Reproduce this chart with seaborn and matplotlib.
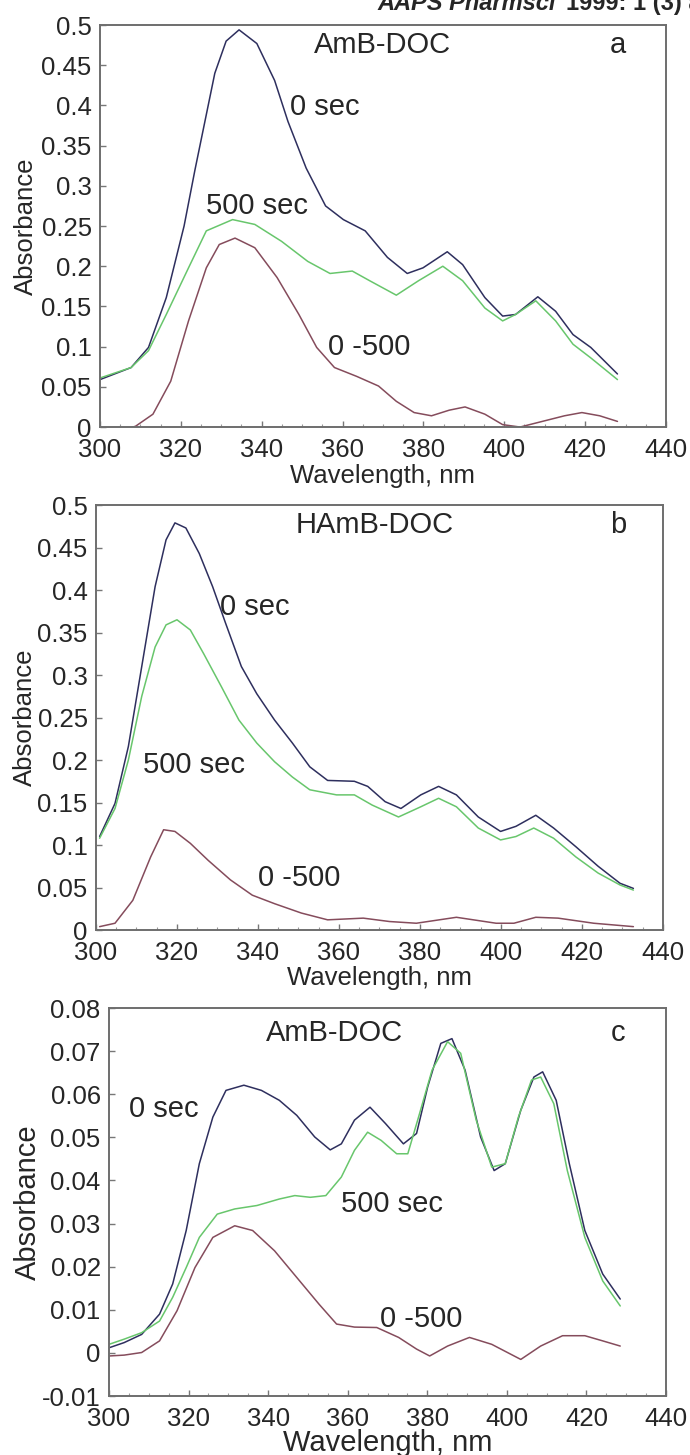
import numpy as np
import matplotlib
matplotlib.use("Agg")
import matplotlib.pyplot as plt
from matplotlib.ticker import MultipleLocator, FuncFormatter
import seaborn as sns

# --- panel a: AmB-DOC ---
a_wl_0 = [300, 307.7, 312, 316.4, 320.8, 323.5, 328.4, 331.2, 334.4, 338.8, 343.2, 346.5, 351.0,
          355.8, 360.2, 365.6, 371.1, 376.0, 379.9, 385.9, 389.7, 395.2, 399.6, 402.8, 408.3,
          412.7, 417.0, 421.4, 428.0]
a_abs_0 = [0.059, 0.074, 0.099, 0.161, 0.25, 0.32, 0.44, 0.48, 0.494, 0.477, 0.431, 0.38, 0.322,
           0.275, 0.258, 0.244, 0.211, 0.191, 0.198, 0.218, 0.202, 0.161, 0.138, 0.14, 0.162,
           0.144, 0.115, 0.099, 0.066]
a_wl_500 = [300, 307.7, 312, 316.4, 321.9, 326.3, 332.8, 338.3, 344.9, 351.4, 356.9, 362.4, 366.7,
            373.3, 378.8, 384.8, 389.7, 395.2, 399.6, 402.8, 407.8, 412.7, 417.0, 421.4, 428.0]
a_abs_500 = [0.061, 0.074, 0.095, 0.14, 0.198, 0.244, 0.258, 0.252, 0.231, 0.206, 0.191, 0.194,
             0.182, 0.164, 0.182, 0.2, 0.182, 0.148, 0.132, 0.14, 0.157, 0.132, 0.103, 0.086, 0.059]
a_wl_diff = [300, 305.5, 308.8, 313.1, 317.5, 321.9, 326.3, 329.5, 333.4, 338.3, 343.8, 349.2,
             353.6, 358.0, 363.5, 368.9, 373.3, 377.7, 382.0, 386.4, 390.3, 395.2, 399.6, 403.9,
             409.4, 414.9, 419.2, 423.6, 428.0]
a_abs_diff = [-0.005, -0.004, 0.001, 0.016, 0.057, 0.132, 0.198, 0.227, 0.235, 0.223, 0.186, 0.14,
              0.099, 0.074, 0.063, 0.051, 0.032, 0.018, 0.014, 0.021, 0.025, 0.016, 0.003, 0.0,
              0.007, 0.014, 0.018, 0.014, 0.007]

# --- panel b: HAmB-DOC ---
b_wl_0 = [300.9, 304.7, 308.0, 311.3, 314.6, 317.3, 319.5, 322.2, 325.5, 328.8, 332.0, 335.9,
          339.7, 344.1, 348.5, 352.8, 357.2, 363.8, 367.1, 371.4, 375.3, 380.2, 384.6, 389.0,
          394.4, 399.9, 403.7, 408.6, 413.0, 418.5, 424.0, 429.4, 432.7]
b_abs_0 = [0.110, 0.149, 0.216, 0.31, 0.404, 0.459, 0.479, 0.473, 0.443, 0.404, 0.361, 0.31,
           0.278, 0.247, 0.22, 0.192, 0.176, 0.175, 0.169, 0.151, 0.143, 0.159, 0.169, 0.159,
           0.133, 0.116, 0.122, 0.135, 0.12, 0.098, 0.075, 0.055, 0.049]
b_wl_500 = [300.9, 304.7, 308.0, 311.3, 314.6, 317.3, 320.0, 323.3, 326.6, 331.0, 335.3, 339.7,
            344.1, 348.5, 352.8, 359.4, 363.8, 368.2, 374.7, 380.2, 384.6, 389.0, 394.4, 399.9,
            403.7, 408.1, 413.0, 418.5, 424.0, 429.4, 432.7]
b_abs_500 = [0.108, 0.143, 0.2, 0.275, 0.333, 0.359, 0.365, 0.353, 0.325, 0.286, 0.247, 0.22,
             0.198, 0.18, 0.165, 0.159, 0.159, 0.147, 0.133, 0.145, 0.155, 0.145, 0.12, 0.106,
             0.11, 0.12, 0.108, 0.086, 0.067, 0.053, 0.047]
b_wl_diff = [300.9, 304.7, 309.1, 313.5, 316.7, 319.5, 323.3, 327.7, 333.2, 338.6, 344.1, 350.7,
             357.2, 366.0, 372.5, 379.1, 389.0, 398.8, 403.2, 408.6, 414.1, 422.9, 432.7]
b_abs_diff = [0.004, 0.008, 0.035, 0.086, 0.118, 0.116, 0.102, 0.082, 0.059, 0.041, 0.031, 0.02,
              0.012, 0.014, 0.01, 0.008, 0.015, 0.008, 0.008, 0.015, 0.014, 0.008, 0.004]

# --- panel c: AmB-DOC ---
c_wl_0 = [300.0, 303.8, 308.2, 312.7, 316.0, 319.4, 322.7, 326.1, 329.4, 333.9, 338.3, 342.8,
          347.2, 351.7, 355.6, 358.4, 361.7, 365.6, 369.5, 374.0, 377.3, 380.1, 383.4, 386.2,
          389.5, 393.4, 396.8, 399.6, 403.5, 406.8, 409.0, 412.4, 415.7, 419.6, 424.1, 428.5]
c_abs_0 = [0.0012, 0.0024, 0.0043, 0.009, 0.016, 0.0284, 0.0439, 0.0547, 0.0609, 0.0621, 0.0609,
           0.0586, 0.0551, 0.0501, 0.0471, 0.0485, 0.054, 0.057, 0.0532, 0.0485, 0.0509, 0.0617,
           0.0718, 0.0729, 0.0656, 0.0501, 0.0423, 0.0439, 0.0563, 0.064, 0.0652, 0.0586,
           0.0439, 0.0284, 0.0183, 0.0125]
c_wl_500 = [300.0, 303.8, 308.2, 312.7, 316.0, 319.4, 322.7, 327.2, 331.6, 337.2, 342.8, 346.7,
            350.6, 354.5, 358.4, 361.7, 365.0, 368.4, 372.3, 375.1, 377.8, 381.2, 385.1, 388.4,
            392.3, 396.2, 399.6, 402.9, 406.2, 408.5, 411.8, 415.2, 419.6, 424.1, 428.5]
c_abs_500 = [0.002, 0.0032, 0.0047, 0.0074, 0.0129, 0.0198, 0.0268, 0.0322, 0.0334, 0.0342,
             0.0357, 0.0365, 0.0361, 0.0365, 0.0408, 0.047, 0.0512, 0.0493, 0.0462, 0.0462,
             0.0547, 0.0656, 0.0722, 0.0695, 0.054, 0.0431, 0.0439, 0.0547, 0.0633, 0.064,
             0.0578, 0.0423, 0.0268, 0.0167, 0.0109]
c_wl_diff = [300.0, 303.8, 308.2, 312.7, 317.1, 321.6, 326.1, 331.6, 336.1, 341.6, 347.2, 352.8,
             357.2, 361.7, 367.3, 372.8, 377.3, 380.6, 385.1, 390.6, 396.2, 403.5, 408.5, 414.0,
             419.6, 424.1, 428.5]
c_abs_diff = [-0.0007, -0.0005, 0.0001, 0.0028, 0.0098, 0.0198, 0.0268, 0.0295, 0.0284, 0.0237,
              0.0175, 0.0113, 0.0067, 0.006, 0.0059, 0.0036, 0.0009, -0.0007, 0.0016, 0.0036,
              0.002, -0.0015, 0.0016, 0.004, 0.004, 0.0028, 0.0016]

xticks = [300, 320, 340, 360, 380, 400, 420, 440]

sns.set_style("ticks")
plt.rcParams['font.family'] = ['Liberation Sans', 'DejaVu Sans']

col_0 = '#2e2f5e'
col_500 = '#68c66c'
col_diff = '#854c5c'


def fmt(v, pos):
    s = f"{v:.2f}".rstrip('0').rstrip('.')
    if s in ('-0', ''):
        s = '0'
    return s


def style_axes(ax, ylim, ystep, labsize, xlab_y, ylab_x):
    ax.set_xlim(300, 440)
    ax.set_ylim(*ylim)
    ax.set_xticks(xticks)
    ax.xaxis.set_minor_locator(MultipleLocator(5))
    ax.yaxis.set_major_locator(MultipleLocator(ystep))
    ax.yaxis.set_major_formatter(FuncFormatter(fmt))
    ax.tick_params(which='major', direction='in', length=4, width=1, color='#777777',
                   labelsize=18.5)
    ax.tick_params(axis='x', which='major', pad=8)
    ax.tick_params(axis='y', which='major', pad=6)
    ax.tick_params(which='minor', direction='in', length=2, width=0.8, color='#999999')
    ax.tick_params(axis='y', which='minor', left=False)
    for sp in ax.spines.values():
        sp.set_visible(True)
        sp.set_color('#6e6e6e')
        sp.set_linewidth(1.4)
    ax.set_xlabel('Wavelength, nm', fontsize=labsize, va='top')
    ax.set_ylabel('Absorbance', fontsize=labsize)
    ax.xaxis.set_label_coords(0.5, xlab_y)
    ax.yaxis.set_label_coords(ylab_x, 0.5)


def draw(ax, series):
    for wl, ab, c in series:
        sns.lineplot(x=wl, y=ab, ax=ax, color=c, lw=1.1, estimator=None, sort=False)


fig = plt.figure(figsize=(6.9, 14.55), dpi=100)
ax_a = fig.add_axes([0.1449, 0.7065, 0.8203, 0.2763])
ax_b = fig.add_axes([0.1391, 0.3608, 0.8217, 0.2921])
ax_c = fig.add_axes([0.1580, 0.0405, 0.8072, 0.2667])

# panel a
draw(ax_a, [(a_wl_0, a_abs_0, col_0), (a_wl_500, a_abs_500, col_500),
            (a_wl_diff, a_abs_diff, col_diff)])
style_axes(ax_a, (0, 0.5), 0.05, 18.5, -0.092, -0.11)
ax_a.text(370, 0.475, 'AmB-DOC', fontsize=21, ha='center', va='center')
ax_a.text(428, 0.475, 'a', fontsize=21, ha='center', va='center')
ax_a.text(347, 0.398, '0 sec', fontsize=21, ha='left', va='center')
ax_a.text(326.3, 0.275, '500 sec', fontsize=21, ha='left', va='center')
ax_a.text(356.3, 0.1, '0 -500', fontsize=21, ha='left', va='center')

# panel b
draw(ax_b, [(b_wl_0, b_abs_0, col_0), (b_wl_500, b_abs_500, col_500),
            (b_wl_diff, b_abs_diff, col_diff)])
style_axes(ax_b, (0, 0.5), 0.05, 18.5, -0.085, -0.104)
ax_b.text(368.7, 0.476, 'HAmB-DOC', fontsize=21, ha='center', va='center')
ax_b.text(428.9, 0.476, 'b', fontsize=21, ha='center', va='center')
ax_b.text(330.7, 0.38, '0 sec', fontsize=21, ha='left', va='center')
ax_b.text(311.5, 0.194, '500 sec', fontsize=21, ha='left', va='center')
ax_b.text(340, 0.061, '0 -500', fontsize=21, ha='left', va='center')

# panel c
draw(ax_c, [(c_wl_0, c_abs_0, col_0), (c_wl_500, c_abs_500, col_500),
            (c_wl_diff, c_abs_diff, col_diff)])
style_axes(ax_c, (-0.01, 0.08), 0.01, 21, -0.085, -0.12)
ax_c.text(356.7, 0.0743, 'AmB-DOC', fontsize=21, ha='center', va='center')
ax_c.text(428, 0.0743, 'c', fontsize=21, ha='center', va='center')
ax_c.text(305.1, 0.0566, '0 sec', fontsize=21, ha='left', va='center')
ax_c.text(358.4, 0.0346, '500 sec', fontsize=21, ha='left', va='center')
ax_c.text(368.2, 0.0079, '0 -500', fontsize=21, ha='left', va='center')

# journal header, cut at the right edge as in the scan
fig.text(377 / 690, 1 - 10 / 1455, 'AAPS Pharmsci', fontsize=17, fontweight='bold',
         fontstyle='italic', va='baseline', ha='left')
fig.text(566 / 690, 1 - 10 / 1455, '1999: 1 (3) a', fontsize=17, fontweight='bold',
         va='baseline', ha='left')

fig.savefig('out.png', dpi=100, facecolor='white')
